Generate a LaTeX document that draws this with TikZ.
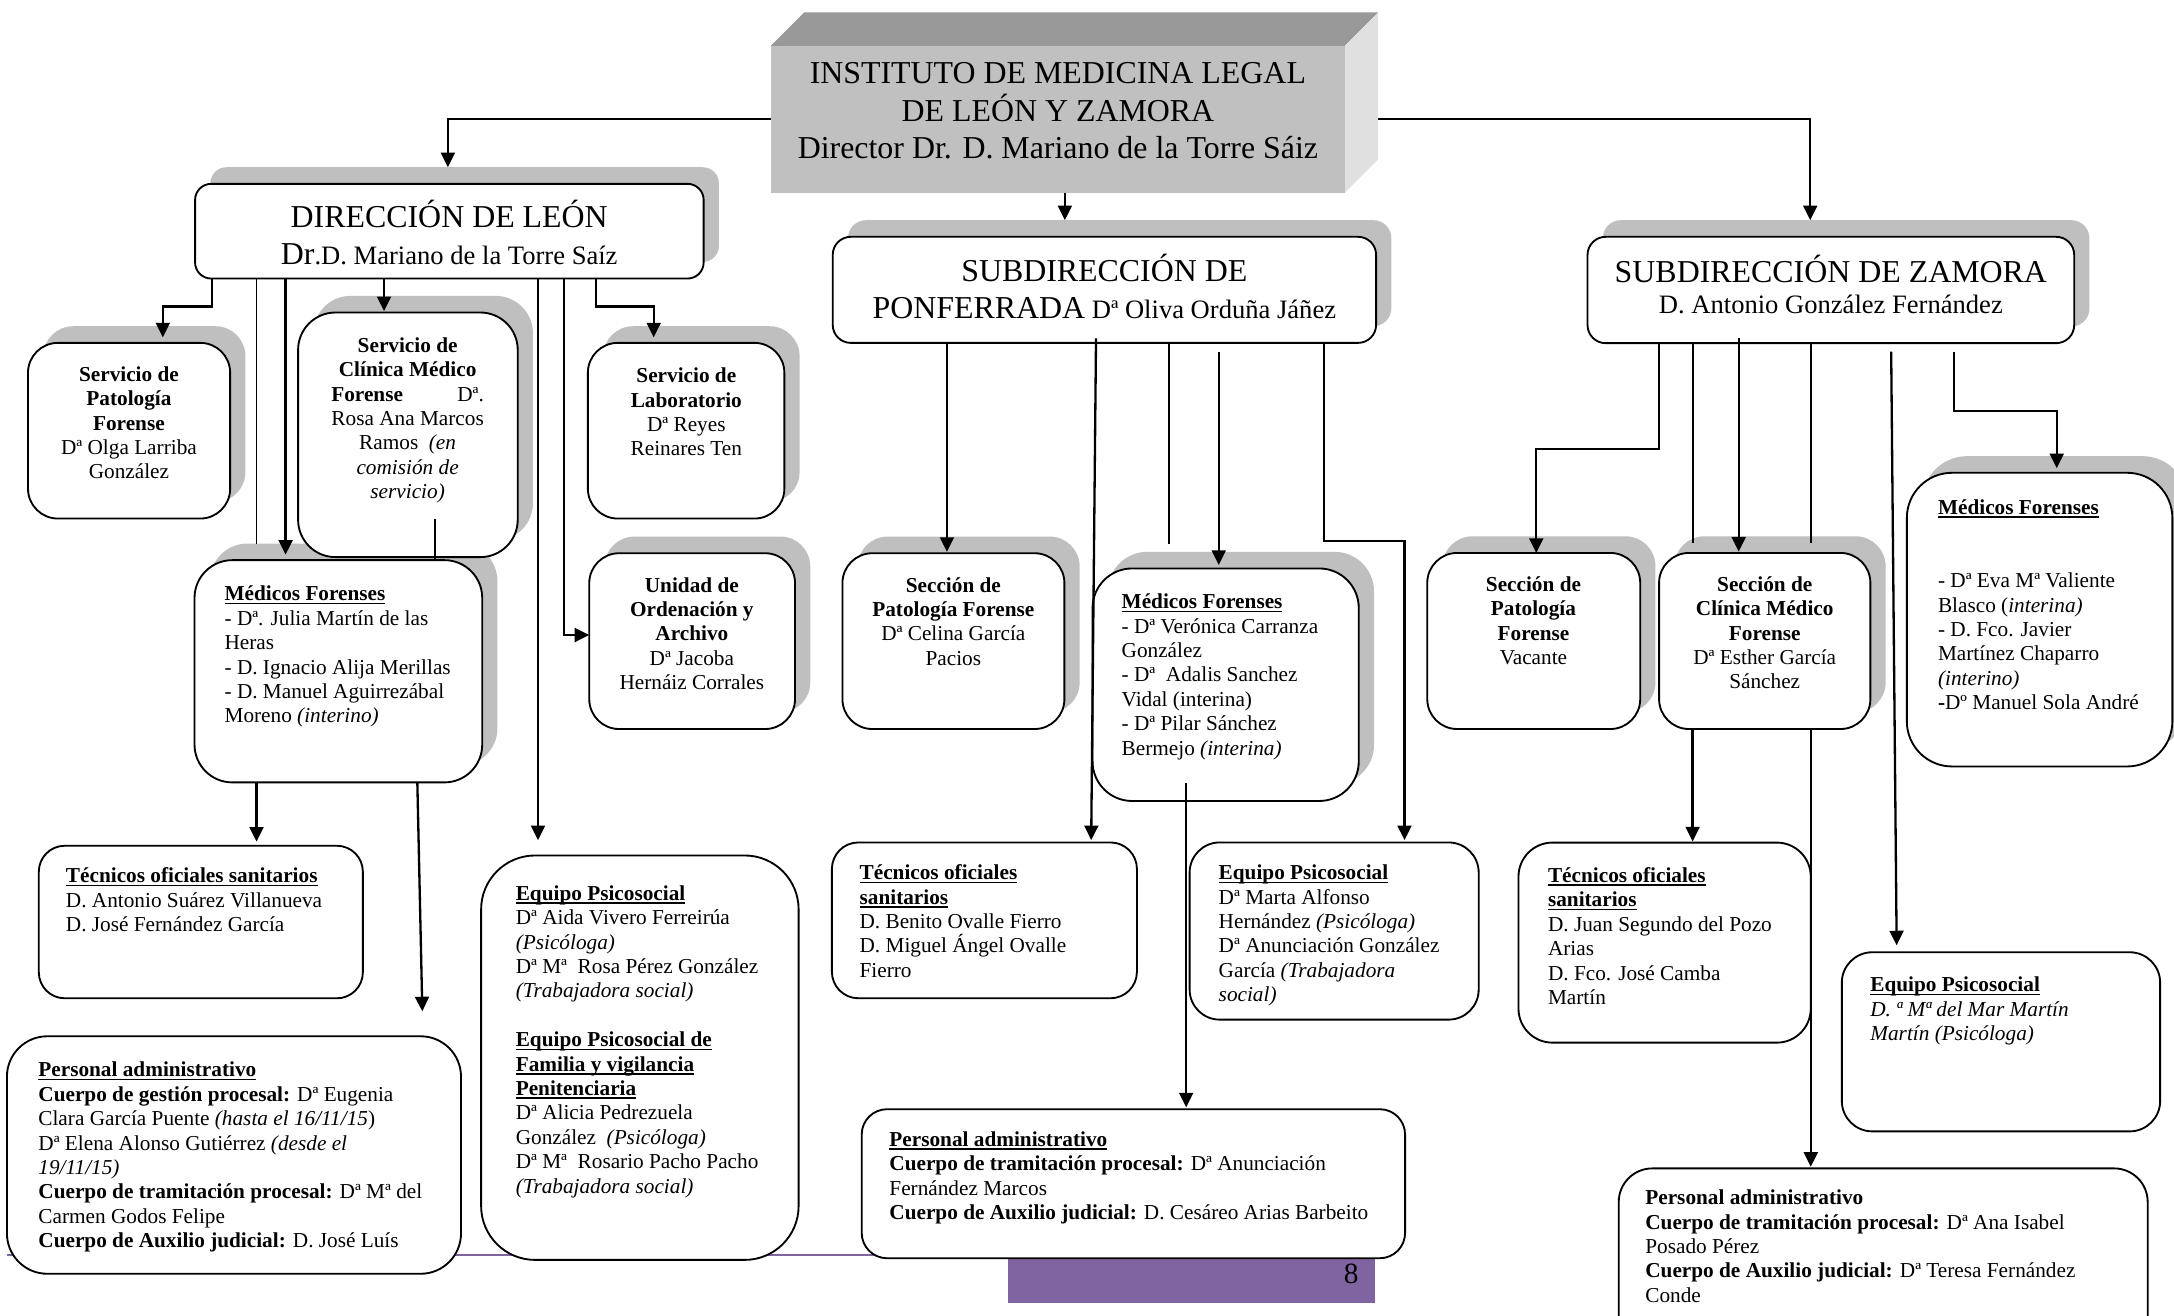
\documentclass[tikz,border=0pt]{standalone}
\usepackage{fontspec}
\setmainfont{Liberation Serif}
\usetikzlibrary{arrows.meta,shadows}
\definecolor{shadowgray}{HTML}{BFBFBF}
\definecolor{topdark}{HTML}{999999}
\definecolor{frontgray}{HTML}{C0C0C0}
\definecolor{sidelight}{HTML}{E0E0E0}
\definecolor{footpurple}{HTML}{8064A2}
\newcommand\fbody{\fontsize{9.2}{10.56}\selectfont}
\newcommand\ftitle{\fontsize{13.8}{16.2}\selectfont}
\newcommand\fsub{\fontsize{11.5}{13.5}\selectfont}
\newcommand\myul[1]{\setbox0\hbox{#1}\rlap{\rule[-1.5pt]{\wd0}{0.7pt}}\box0}
\newcommand\tstrut{\rule{0pt}{7.4pt}}
\tikzset{
 box/.style={draw, line width=0.8pt, fill=white, inner sep=0pt, outer sep=0pt},
 shad/.style={drop shadow={shadow xshift=6.6pt, shadow yshift=7.2pt, fill=shadowgray, opacity=1}},
 txt/.style={inner sep=0pt, outer sep=0pt, font=\fbody, align=left, anchor=north west},
 ctxt/.style={inner sep=0pt, outer sep=0pt, font=\fbody, align=center, anchor=north},
 ttl/.style={inner sep=0pt, outer sep=0pt, font=\ftitle, anchor=base},
 sttl/.style={inner sep=0pt, outer sep=0pt, font=\fsub, anchor=base},
 arr/.style={line width=1pt, -{Triangle[length=6.3pt,width=6pt]}},
 thinline/.style={line width=0.75pt},
}
\newcommand{\bx}[6][]{%
 \pgfmathsetmacro\Bw{(#5-#3)*0.6}%
 \pgfmathsetmacro\Bh{(#6-#4)*0.6}%
 \pgfmathsetmacro\Br{min(\Bw,\Bh)*0.17}%
 \node[box,#1,minimum width=\Bw pt,minimum height=\Bh pt,rounded corners=\Br pt] (#2) at ({(#3+#5)/2},{(#4+#6)/2}) {};}
\begin{document}
\begin{tikzpicture}[x=0.6pt,y=-0.6pt]
\useasboundingbox (0,0) rectangle (1568,948.5);
\clip (0,0) rectangle (1568,948.5);
% footer
\draw[footpurple, line width=0.8pt] (5,905) -- (727,905);
\node[fill=footpurple, inner sep=0pt, outer sep=0pt, minimum width=158.8pt, minimum height=19pt, anchor=north west] (foot) at (727,908) {};
\node[font=\fontsize{12.7}{14}\selectfont, inner sep=0pt] (pgnum) at (974.6,919) {8};
% top 3D box
\fill[topdark] (556,33) -- (580,9) -- (994,9) -- (970,33) -- cycle;
\fill[sidelight] (970,33) -- (994,9) -- (994,115) -- (970,139) -- cycle;
\node[fill=frontgray, inner sep=0pt, outer sep=0pt, minimum width=248.4pt, minimum height=63.6pt] (topF) at (763,86) {};
\node[font=\ftitle, align=center, inner sep=0pt] (topT) at (763,80) {INSTITUTO DE MEDICINA LEGAL\\DE LEÓN Y ZAMORA\\Director Dr. D. Mariano de la Torre Sáiz};
\coordinate (topR) at (994,86);
% shadowed boxes
\bx[shad]{dirL}{140.7}{132.6}{507.5}{200.9}
\bx[shad]{pon}{600.6}{170.8}{992.5}{247.3}
\bx[shad]{zam}{1145}{170.8}{1496}{247.5}
\bx[shad]{patL}{20.2}{247.3}{166}{374}
\bx[shad]{labL}{424}{247.3}{565.7}{374}
\bx[shad]{medL}{140.3}{404}{347.8}{564.3}
\bx[shad]{clinL}{215}{225.4}{373.4}{401.8}
\bx[shad]{unid}{425}{399}{573.4}{525.8}
\bx[shad]{secPP}{607.6}{399}{767.7}{525.8}
\bx[shad]{medP}{788}{410}{980}{577.7}
\bx[shad]{secPZ}{1029.4}{398.8}{1183}{525.8}
\bx[shad]{secCZ}{1196.6}{398.8}{1349}{525.8}
\bx[shad]{medZ}{1375.3}{341}{1566.8}{552.8}
% plain boxes
\bx{tecL}{28}{610}{261.7}{720}
\bx{eqL}{347}{617}{576}{908.7}
\bx{admL}{5}{747.4}{332.5}{918.7}
\bx{tecP}{600}{607.6}{820}{720}
\bx{eqP}{858}{607.6}{1066.5}{735.4}
\bx{admP}{621.5}{800}{1013.4}{907.5}
\bx{tecZ}{1095.2}{607.7}{1306}{752}
\bx{eqZ}{1328.4}{686.8}{1558}{816}
\bx{admZ}{1167.5}{842.7}{1549}{985}
% titles
\node[ttl] (dirLt1) at (324,163.8) {DIRECCIÓN DE LEÓN};
\node[sttl] (dirLt2) at (324,190.5) {{\ftitle Dr}.D. Mariano de la Torre Saíz};
\node[ttl] (pont1) at (796.5,202.8) {SUBDIRECCIÓN DE};
\node[sttl] (pont2) at (796.5,229.5) {{\ftitle PONFERRADA} Dª Oliva Orduña Jáñez};
\node[ttl] (zamt1) at (1320.5,203.8) {SUBDIRECCIÓN DE ZAMORA};
\node[sttl] (zamt2) at (1320.5,226) {D. Antonio González Fernández};
% body texts
\node[ctxt] (patLt) at (93,262.7) {\tstrut\textbf{Servicio de}\\\textbf{Patología}\\\textbf{Forense}\\Dª Olga Larriba\\González};
\node[ctxt] (clinLt) at (294,241.7) {\tstrut\textbf{Servicio de}\\\textbf{Clínica Médico}\\\makebox[66pt][s]{\textbf{Forense} Dª.}\\Rosa Ana Marcos\\Ramos \ \textit{(en}\\\textit{comisión de}\\\textit{servicio)}};
\node[ctxt] (labLt) at (495,263.7) {\tstrut\textbf{Servicio de}\\\textbf{Laboratorio}\\Dª Reyes\\Reinares Ten};
\node[txt] (medLt) at (162,421) {\tstrut\myul{\textbf{Médicos Forenses}}\\- Dª. Julia Martín de las\\Heras\\- D. Ignacio Alija Merillas\\- D. Manuel Aguirrezábal\\Moreno \textit{(interino)}};
\node[ctxt] (unidt) at (499,414.7) {\tstrut\textbf{Unidad de}\\\textbf{Ordenación y}\\\textbf{Archivo}\\Dª Jacoba\\Hernáiz Corrales};
\node[txt] (tecLt) at (47.6,624.5) {\tstrut\myul{\textbf{Técnicos oficiales sanitarios}}\\D. Antonio Suárez Villanueva\\D. José Fernández García};
\node[txt] (eqLt) at (372,637) {\tstrut\myul{\textbf{Equipo Psicosocial}}\\Dª Aida Vivero Ferreirúa\\\textit{(Psicóloga)}\\Dª Mª \ Rosa Pérez González\\\textit{(Trabajadora social)}\\~\\\myul{\textbf{Equipo Psicosocial de}}\\\myul{\textbf{Familia y vigilancia}}\\\myul{\textbf{Penitenciaria}}\\Dª Alicia Pedrezuela\\González \ \textit{(Psicóloga)}\\Dª Mª \ Rosario Pacho Pacho\\\textit{(Trabajadora social)}};
\node[txt] (admLt) at (27.7,764.3) {\tstrut\myul{\textbf{Personal administrativo}}\\\textbf{Cuerpo de gestión procesal:} Dª Eugenia\\Clara García Puente \textit{(hasta el 16/11/15})\\Dª Elena Alonso Gutiérrez \textit{(desde el}\\\textit{19/11/15)}\\\textbf{Cuerpo de tramitación procesal:} Dª Mª del\\Carmen Godos Felipe\\\textbf{Cuerpo de Auxilio judicial:} D. José Luís};
\node[ctxt] (secPPt) at (687.6,414.7) {\tstrut\textbf{Sección de}\\\textbf{Patología Forense}\\Dª Celina García\\Pacios};
\node[txt] (medPt) at (809,426.7) {\tstrut\myul{\textbf{Médicos Forenses}}\\- Dª Verónica Carranza\\González\\- Dª \ Adalis Sanchez\\Vidal (interina)\\- Dª Pilar Sánchez\\Bermejo \textit{(interina)}};
\node[txt] (tecPt) at (620,622.2) {\tstrut\myul{\textbf{Técnicos oficiales}}\\\myul{\textbf{sanitarios}}\\D. Benito Ovalle Fierro\\D. Miguel Ángel Ovalle\\Fierro};
\node[txt] (eqPt) at (879,622.2) {\tstrut\myul{\textbf{Equipo Psicosocial}}\\Dª Marta Alfonso\\Hernández \textit{(Psicóloga)}\\Dª Anunciación González\\García \textit{(Trabajadora}\\\textit{social)}};
\node[txt] (admPt) at (641.5,814.5) {\tstrut\myul{\textbf{Personal administrativo}}\\\textbf{Cuerpo de tramitación procesal:} Dª Anunciación\\Fernández Marcos\\\textbf{Cuerpo de Auxilio judicial:} D. Cesáreo Arias Barbeito};
\node[ctxt] (secPZt) at (1106,414.1) {\tstrut\textbf{Sección de}\\\textbf{Patología}\\\textbf{Forense}\\Vacante};
\node[ctxt] (secCZt) at (1272.8,414.1) {\tstrut\textbf{Sección de}\\\textbf{Clínica Médico}\\\textbf{Forense}\\Dª Esther García\\Sánchez};
\node[txt] (medZt) at (1397.8,358.7) {\tstrut\myul{\textbf{Médicos Forenses}}\\~\\~\\- Dª Eva Mª Valiente\\Blasco (\textit{interina)}\\- D. Fco. Javier\\Martínez Chaparro\\\textit{(interino)}\\\textbf{-}Dº Manuel Sola André};
\node[txt] (tecZt) at (1116.5,624.1) {\tstrut\myul{\textbf{Técnicos oficiales}}\\\myul{\textbf{sanitarios}}\\D. Juan Segundo del Pozo\\Arias\\D. Fco. José Camba\\Martín};
\node[txt] (eqZt) at (1349,703.1) {\tstrut\myul{\textbf{Equipo Psicosocial}}\\\textit{D. ª Mª del Mar Martín}\\\textit{Martín (Psicóloga)}};
\node[txt] (admZt) at (1186.7,856.5) {\tstrut\textbf{Personal administrativo}\\\textbf{Cuerpo de tramitación procesal:} Dª Ana Isabel\\Posado Pérez\\\textbf{Cuerpo de Auxilio judicial:} Dª Teresa Fernández\\Conde};
% connectors: top
\draw[arr, shorten >=7.2pt] (topF.west |- 0,86) -| (323,0 |- dirL.north);
\draw[arr, shorten >=7.2pt] (topR) -| (1305.6,0 |- zam.north);
\draw[arr, shorten >=7.2pt] (topF.south -| 768,0) -- (768,0 |- pon.north);
% Leon
\draw[arr, shorten >=2.4pt] (dirL.south -| 153,0) |- (117.4,221) -- (117.4,0 |- patL.north);
\draw[thinline, shorten >=7.2pt] (dirL.south -| 185,0) -- (185,0 |- medL.north);
\draw[arr, shorten >=2.4pt] (dirL.south -| 206,0) -- (206,0 |- medL.north);
\draw[arr, shorten >=0.6pt] (dirL.south -| 277,0) -- (277,0 |- clinL.north);
\draw[arr, shorten >=6.6pt] (dirL.south -| 388,0) -- (388,0 |- eqL.north);
\draw[arr] (dirL.south -| 407,0) |- (unid.west |- 0,458);
\draw[arr, shorten >=2.4pt] (dirL.south -| 430,0) |- (471.5,221) -- (471.5,0 |- labL.north);
\draw[thinline] (314,374) -- (314,0 |- medL.north);
\draw[arr, shorten >=1.8pt] (medL.south -| 185,0) -- (185,0 |- tecL.north);
\draw[arr, shorten >=10.8pt] (medL.south -| 301,0) -- (305,0 |- admL.north);
% Ponferrada
\draw[arr, shorten >=0.6pt] (pon.south -| 683,0) -- (683,0 |- secPP.north);
\draw[arr, shorten >=1pt] (790.5,244) -- (787,0 |- tecP.north);
\draw[thinline, shorten >=10.8pt] (pon.south -| 843,0) -- (843,0 |- medP.north);
\draw[arr, shorten >=1.5pt] (879,253.6) -- (879,0 |- medP.north);
\draw[arr, shorten >=1pt] (pon.south -| 955,0) |- (1013,390) -- (1013,0 |- eqP.north);
\draw[arr, shorten >=0.8pt] (855.5,565) -- (855.5,0 |- admP.north);
% Zamora
\draw[arr] (zam.south -| 1196.6,0) |- (1108,324) -- (1108,0 |- secPZ.north);
\draw[thinline, shorten >=4.2pt] (zam.south -| 1220.8,0) -- (1220.8,0 |- secCZ.north);
\draw[arr, shorten >=0.6pt] (1254,244) -- (1254,0 |- secCZ.north);
\draw[thinline, shorten >=4.2pt] (zam.south -| 1306,0) -- (1306,0 |- secCZ.north);
\draw[arr, shorten >=3pt] (1364,253.6) -- (1368,0 |- eqZ.north);
\draw[arr, shorten >=2pt] (1409.5,253.6) |- (1483.4,296.2) -- (1483.4,0 |- medZ.north);
\draw[arr, shorten >=0.5pt] (secCZ.south -| 1220.8,0) -- (1220.8,0 |- tecZ.north);
\draw[arr, shorten >=0.7pt] (secCZ.south -| 1306,0) -- (1306,0 |- admZ.north);
\end{tikzpicture}
\end{document}
